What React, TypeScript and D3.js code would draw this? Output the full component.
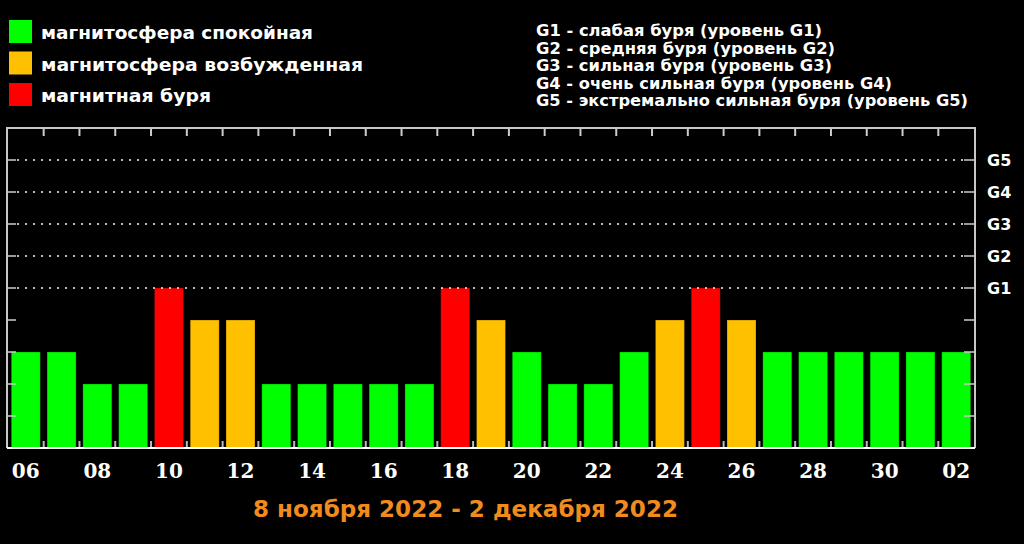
import * as d3 from 'd3';

const days = ['06', '07', '08', '09', '10', '11', '12', '13', '14', '15', '16', '17', '18', '19', '20',
  '21', '22', '23', '24', '25', '26', '27', '28', '29', '30', '01', '02'];
const kp = [3, 3, 2, 2, 5, 4, 4, 2, 2, 2, 2, 2, 5, 4, 3, 2, 2, 3, 4, 5, 4, 3, 3, 3, 3, 3, 3];
const levels = ['G1', 'G2', 'G3', 'G4', 'G5'];
const legendLeft = ['магнитосфера спокойная', 'магнитосфера возбужденная', 'магнитная буря'];
const legendRight = [
  'G1 - слабая буря (уровень G1)',
  'G2 - средняя буря (уровень G2)',
  'G3 - сильная буря (уровень G3)',
  'G4 - очень сильная буря (уровень G4)',
  'G5 - экстремально сильная буря (уровень G5)',
];
const title = '8 ноября 2022 - 2 декабря 2022';

// measured text widths in the reference, so the wide bitmap font is matched
const legendLeftWidths = [272, 322, 170];
const legendRightWidths = [286, 299, 296, 356, 432];

const GREEN = '#00ff00';
const ORANGE = '#ffc000';
const RED = '#ff0000';
const legendColors = [GREEN, ORANGE, RED];

const W = 1024;
const H = 544;
const left = 7;
const right = 975;
const top = 128;
const bottom = 448;

const colorFor = (v: number) => (v >= 5 ? RED : v >= 4 ? ORANGE : GREEN);

export default function App() {
  const x = d3.scaleBand<string>().domain(days).range([left, right]).paddingInner(0.19).paddingOuter(0.12);
  const y = d3.scaleLinear().domain([0, 10]).range([bottom, top]);
  const bw = x.bandwidth();
  const step = x.step();
  const gap = step * 0.19;
  const boundaries = days.slice(1).map(d => (x(d) as number) - gap / 2);
  const yTicks = d3.range(1, 10);

  return (
    <div style={{ position: 'fixed', left: 0, top: 0, width: W, height: H, background: '#000' }}>
      <svg width={W} height={H} style={{ display: 'block' }}>
        <rect width={W} height={H} fill="#000" />

        {/* legend, left */}
        {legendLeft.map((t, i) => (
          <g key={t}>
            <rect x={9} y={20 + i * 31.5} width={23} height={23} fill={legendColors[i]} />
            <text x={41} y={39 + i * 31.5} fill="#fff" fontFamily="DejaVu Sans" fontWeight="bold"
              fontSize={18} textLength={legendLeftWidths[i]} lengthAdjust="spacingAndGlyphs">{t}</text>
          </g>
        ))}

        {/* legend, right */}
        {legendRight.map((t, i) => (
          <text key={t} x={536} y={36 + i * 17.5} fill="#fff" fontFamily="DejaVu Sans" fontWeight="bold"
            fontSize={15} textLength={legendRightWidths[i]} lengthAdjust="spacingAndGlyphs">{t}</text>
        ))}

        {/* bars */}
        {days.map((d, i) => (
          <rect key={d + i} x={x(d)} y={y(kp[i])} width={bw} height={bottom - y(kp[i])}
            fill={colorFor(kp[i])} stroke="#000" strokeOpacity={0.25} strokeWidth={1} />
        ))}

        {/* dotted grid at G levels */}
        {levels.map((g, i) => (
          <line key={g} x1={left + 10} x2={right - 12} y1={y(5 + i)} y2={y(5 + i)}
            stroke="#fff" strokeWidth={1.5} strokeDasharray="2 6" />
        ))}

        {/* y ticks */}
        {yTicks.map(v => (
          <g key={v}>
            <line x1={left} x2={left + 9} y1={y(v)} y2={y(v)} stroke="#ccc" strokeWidth={1.5} />
            <line x1={right - 11} x2={right} y1={y(v)} y2={y(v)} stroke="#ccc" strokeWidth={1.5} />
          </g>
        ))}

        {/* x ticks at band boundaries */}
        {boundaries.map((bx, i) => (
          <g key={i}>
            <line x1={bx} x2={bx} y1={top} y2={top + 8} stroke="#ccc" strokeWidth={2} />
            <line x1={bx} x2={bx} y1={bottom} y2={bottom - 7} stroke="#bbb" strokeWidth={2} />
          </g>
        ))}

        {/* frame */}
        <path d={`M${left},${bottom}V${top}H${right}V${bottom}`} fill="none" stroke="#c8c8c8" strokeWidth={2} />
        <line x1={left} x2={right} y1={bottom} y2={bottom} stroke="#fff" strokeWidth={2} />

        {/* G labels */}
        {levels.map((g, i) => (
          <text key={g} x={987} y={y(5 + i) + 6} fill="#fff" fontFamily="DejaVu Sans" fontWeight="bold"
            fontSize={16}>{g}</text>
        ))}

        {/* x labels */}
        {days.map((d, i) => (i % 2 === 0 ? (
          <text key={'l' + d + i} x={(x(d) as number) + bw / 2} y={478} textAnchor="middle" fill="#fff"
            fontFamily="DejaVu Serif" fontWeight="bold" fontSize={20}>{d}</text>
        ) : null))}

        <text x={253} y={517} fill="#f08c1e" fontFamily="DejaVu Sans" fontWeight="bold"
          fontSize={23} textLength={425} lengthAdjust="spacingAndGlyphs">{title}</text>
      </svg>
    </div>
  );
}
